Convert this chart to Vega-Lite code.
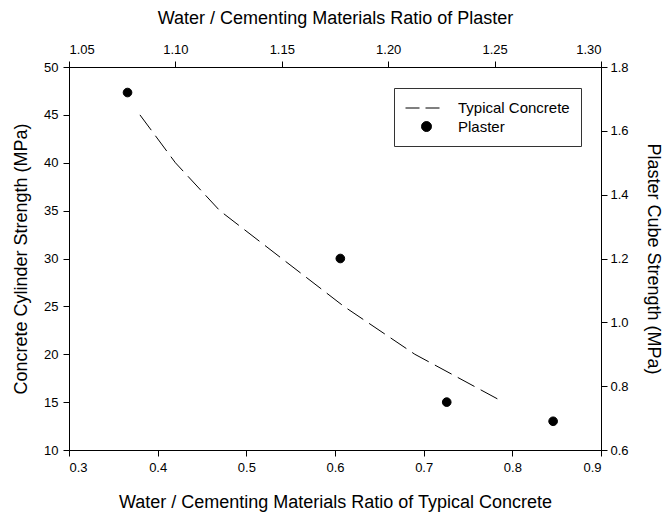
{
  "$schema": "https://vega.github.io/schema/vega-lite/v6.json",
  "width": 532,
  "height": 383,
  "autosize": {"type": "none"},
  "padding": {"left": 69, "top": 67, "right": 67, "bottom": 68},
  "background": "white",
  "config": {
    "view": {"stroke": "black", "strokeWidth": 1},
    "font": "Liberation Sans",
    "axis": {
      "grid": false,
      "domainColor": "black",
      "tickColor": "black",
      "tickSize": 6,
      "labelColor": "black",
      "titleColor": "black",
      "labelFont": "Liberation Sans",
      "titleFont": "Liberation Sans",
      "labelFontSize": 13,
      "titleFontSize": 18,
      "titleFontWeight": "normal",
      "labelPadding": 5,
      "titlePadding": 14
    },
    "legend": {
      "orient": "none",
      "legendX": 325,
      "legendY": 21,
      "columns": 1,
      "strokeColor": "#333333",
      "fillColor": "white",
      "padding": 11,
      "rowPadding": 3,
      "labelOffset": 35,
      "labelFont": "Liberation Sans",
      "labelFontSize": 15,
      "labelColor": "black",
      "symbolStrokeColor": "black",
      "symbolFillColor": "black",
      "symbolStrokeWidth": 1,
      "symbolOpacity": 1
    }
  },
  "layer": [
    {
      "data": {
        "values": [
          {"wc": 0.38, "strength": 45},
          {"wc": 0.42, "strength": 40},
          {"wc": 0.47, "strength": 35},
          {"wc": 0.54, "strength": 30},
          {"wc": 0.61, "strength": 25},
          {"wc": 0.69, "strength": 20},
          {"wc": 0.79, "strength": 15}
        ]
      },
      "mark": {"type": "line", "color": "black", "strokeWidth": 1, "strokeDash": [19, 7]},
      "encoding": {
        "x": {
          "field": "wc", "type": "quantitative",
          "scale": {"domain": [0.3, 0.9], "nice": false, "zero": false},
          "axis": {"orient": "bottom", "title": "Water / Cementing Materials Ratio of Typical Concrete", "values": [0.3, 0.4, 0.5, 0.6, 0.7, 0.8, 0.9], "format": ".1f", "titlePadding": 19}
        },
        "y": {
          "field": "strength", "type": "quantitative",
          "scale": {"domain": [10, 50], "nice": false, "zero": false},
          "axis": {"orient": "left", "title": "Concrete Cylinder Strength (MPa)", "values": [10, 15, 20, 25, 30, 35, 40, 45, 50], "format": "d", "titlePadding": 13}
        }
      }
    },
    {
      "data": {
        "values": [
          {"wc": 1.0775, "strength": 1.72, "series": "Plaster"},
          {"wc": 1.1775, "strength": 1.2, "series": "Plaster"},
          {"wc": 1.2275, "strength": 0.75, "series": "Plaster"},
          {"wc": 1.2775, "strength": 0.69, "series": "Plaster"}
        ]
      },
      "mark": {"type": "point", "filled": true, "shape": "circle", "color": "black", "stroke": "black", "strokeWidth": 1, "opacity": 1, "size": 75},
      "encoding": {
        "x": {
          "field": "wc", "type": "quantitative",
          "scale": {"domain": [1.05, 1.3], "nice": false, "zero": false},
          "axis": {"orient": "top", "title": "Water / Cementing Materials Ratio of Plaster", "values": [1.05, 1.1, 1.15, 1.2, 1.25, 1.3], "format": ".2f", "titlePadding": 16}
        },
        "y": {
          "field": "strength", "type": "quantitative",
          "scale": {"domain": [0.6, 1.8], "nice": false, "zero": false},
          "axis": {"orient": "right", "title": "Plaster Cube Strength (MPa)", "values": [0.6, 0.8, 1.0, 1.2, 1.4, 1.6, 1.8], "format": ".1f", "labelPadding": 3, "titlePadding": 15}
        }
      }
    },
    {
      "data": {"values": []},
      "mark": {"type": "point", "filled": true, "color": "black", "opacity": 1},
      "encoding": {
        "shape": {
          "field": "series", "type": "nominal",
          "scale": {"domain": ["Typical Concrete", "Plaster"], "range": ["M-1,0H3", "M3.5,0A1,1,0,1,1,1.5,0A1,1,0,1,1,3.5,0Z"]},
          "legend": {"title": null}
        },
        "size": {
          "field": "series", "type": "nominal",
          "scale": {"type": "ordinal", "domain": ["Typical Concrete", "Plaster"], "range": [289, 100]},
          "legend": {"title": null}
        },
        "strokeDash": {
          "field": "series", "type": "nominal",
          "scale": {"domain": ["Typical Concrete", "Plaster"], "range": [[14, 6], [1, 0]]},
          "legend": {"title": null}
        },
        "stroke": {
          "field": "series", "type": "nominal",
          "scale": {"domain": ["Typical Concrete", "Plaster"], "range": ["black", "black"]},
          "legend": {"title": null}
        }
      }
    }
  ],
  "resolve": {"scale": {"x": "independent", "y": "independent"}, "axis": {"x": "independent", "y": "independent"}}
}
